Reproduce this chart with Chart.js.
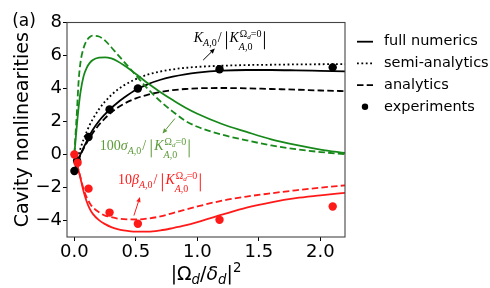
<!DOCTYPE html>
<html>
<head>
<meta charset="utf-8">
<title>Cavity nonlinearities</title>
<script src="https://cdn.jsdelivr.net/npm/chart.js@4.4.1/dist/chart.umd.min.js"></script>
<style>
  html, body { margin: 0; padding: 0; background: #fff; }
  #wrap { width: 490px; height: 288px; }
</style>
</head>
<body>
<div id="wrap"><canvas id="chart" width="490" height="288"></canvas></div>
<script>
// sample points |Omega_d/delta_d|^2 for the model curves
const xGrid = [0, 0.01, 0.02, 0.035, 0.05, 0.075, 0.1, 0.125, 0.15, 0.2, 0.25, 0.3, 0.35, 0.4,
  0.5, 0.6, 0.7, 0.8, 0.9, 1.0, 1.2, 1.4, 1.6, 1.8, 2.0, 2.2];

// K_A,0 / |K_A,0(Omega_d=0)|
const kerrFull = [-1.0, -0.78, -0.57, -0.27, 0.02, 0.42, 0.8, 1.17, 1.5, 2.03, 2.45, 2.82, 3.14, 3.42,
  3.92, 4.27, 4.53, 4.72, 4.86, 4.96, 5.08, 5.12, 5.12, 5.1, 5.07, 5.04];
const kerrSemi = [-1.0, -0.7, -0.4, 0.0, 0.38, 0.92, 1.38, 1.8, 2.15, 2.75, 3.22, 3.6, 3.92, 4.18,
  4.57, 4.85, 5.03, 5.16, 5.25, 5.31, 5.38, 5.42, 5.44, 5.46, 5.47, 5.48];
const kerrAna = [-1.0, -0.8, -0.6, -0.3, -0.02, 0.36, 0.7, 1.02, 1.3, 1.8, 2.2, 2.55, 2.83, 3.06,
  3.4, 3.63, 3.79, 3.9, 3.97, 4.01, 4.03, 4.01, 3.97, 3.93, 3.88, 3.84];

// 100 sigma_A,0 / |K_A,0(Omega_d=0)|
const sigmaFull = [0, 0.9, 1.75, 2.9, 3.8, 4.75, 5.25, 5.55, 5.73, 5.87, 5.89, 5.82, 5.65, 5.42,
  4.88, 4.3, 3.78, 3.3, 2.85, 2.47, 1.85, 1.37, 0.92, 0.58, 0.3, 0.09];
const sigmaAna = [0, 1.3, 2.5, 4.5, 5.6, 6.45, 6.9, 7.12, 7.2, 7.15, 6.9, 6.5, 6.07, 5.65,
  4.8, 3.95, 3.22, 2.6, 2.05, 1.68, 1.2, 0.86, 0.55, 0.32, 0.15, 0.02];

// 10 beta_A,0 / |K_A,0(Omega_d=0)|
const betaFull = [0, -0.28, -0.55, -1.0, -1.45, -2.25, -2.85, -3.3, -3.6, -3.98, -4.22, -4.4, -4.52, -4.6,
  -4.68, -4.68, -4.6, -4.46, -4.3, -4.1, -3.65, -3.22, -2.9, -2.65, -2.48, -2.32];
const betaAna = [0, -0.28, -0.55, -0.98, -1.4, -2.1, -2.6, -2.95, -3.2, -3.5, -3.7, -3.8, -3.88, -3.92,
  -3.94, -3.88, -3.75, -3.55, -3.35, -3.15, -2.8, -2.55, -2.35, -2.17, -2.01, -1.87];

// experiments
const expKerrX = [0, 0.022, 0.115, 0.286, 0.516, 1.18, 2.1];
const expKerrY = [-1.0, -0.38, 1.06, 2.73, 4.0, 5.17, 5.28];
const expBetaX = [0, 0.026, 0.115, 0.286, 0.516, 1.18, 2.1];
const expBetaY = [0.0, -0.5, -2.07, -3.52, -4.2, -3.96, -3.15];

const xTicks = [0, 0.5, 1.0, 1.5, 2.0];
const yTicks = [-4, -2, 0, 2, 4, 6, 8];

const legendItems = ['full numerics', 'semi-analytics', 'analytics', 'experiments'];

const BLACK = '#000000';
const GREEN = '#17891a';
const GREEN_TEXT = '#5c9a3a';
const RED = '#ff1a1a';
const DASHED = [6.5, 3.2];
const DOTTED = [1.8, 2.6];

const pts = (xs, ys) => xs.map((x, i) => ({ x: x, y: ys[i] }));

const curve = (data, color, dash, order) => ({
  data: pts(xGrid, data),
  showLine: true,
  borderColor: color,
  borderWidth: 1.8,
  borderDash: dash,
  pointRadius: 0,
  cubicInterpolationMode: 'monotone',
  order: order
});

const dots = (xs, ys, color, order) => ({
  data: pts(xs, ys),
  showLine: false,
  pointRadius: 4.2,
  pointBackgroundColor: color,
  pointBorderWidth: 0,
  order: order
});

function runs(ctx, x, y, parts, color) {
  ctx.fillStyle = color;
  ctx.textAlign = 'left';
  ctx.textBaseline = 'alphabetic';
  for (const p of parts) {
    ctx.font = (p.it ? 'italic ' : '') + p.size + 'px ' + (p.f || '"Liberation Serif"');
    ctx.fillText(p.t, x, y + (p.dy || 0));
    x += ctx.measureText(p.t).width + (p.gap || 0);
  }
  return x;
}

function bar(ctx, x, y0, y1, color) {
  ctx.strokeStyle = color;
  ctx.lineWidth = 1;
  ctx.setLineDash([]);
  ctx.beginPath();
  ctx.moveTo(x, y0);
  ctx.lineTo(x, y1);
  ctx.stroke();
}

function ratioLabel(ctx, x, y, prefix, color) {
  let cx = runs(ctx, x, y, prefix.concat([
    { t: 'A', size: 10, it: true, dy: 4 }, { t: ',0', size: 10, dy: 4 }
  ]), color);
  cx = runs(ctx, cx + 1, y, [{ t: '/', size: 14 }], color);
  cx += 5;
  bar(ctx, cx, y - 11, y + 7, color);
  cx += 3;
  cx = runs(ctx, cx, y, [{ t: 'K', size: 14, it: true }], color);
  const supEnd = runs(ctx, cx + 1, y - 5, [
    { t: 'Ω', size: 10 }, { t: 'd', size: 7, it: true, dy: 2 }, { t: '=0', size: 10 }
  ], color);
  const subEnd = runs(ctx, cx, y + 7.5, [{ t: 'A', size: 10, it: true }, { t: ',0', size: 10 }], color);
  bar(ctx, Math.max(supEnd, subEnd) + 3, y - 11, y + 7, color);
}

function arrow(ctx, x0, y0, x1, y1, color) {
  const a = Math.atan2(y1 - y0, x1 - x0), h = 5, w = 2.2;
  const bx = x1 - h * Math.cos(a), by = y1 - h * Math.sin(a);
  ctx.strokeStyle = color;
  ctx.fillStyle = color;
  ctx.lineWidth = 1;
  ctx.setLineDash([]);
  ctx.beginPath();
  ctx.moveTo(x0, y0);
  ctx.lineTo(bx, by);
  ctx.stroke();
  ctx.beginPath();
  ctx.moveTo(x1, y1);
  ctx.lineTo(bx + w * Math.sin(a), by - w * Math.cos(a));
  ctx.lineTo(bx - w * Math.sin(a), by + w * Math.cos(a));
  ctx.closePath();
  ctx.fill();
}

const overlay = {
  id: 'overlay',
  afterDraw(chart) {
    const ctx = chart.ctx;
    const a = chart.chartArea;
    const sx = chart.scales.x, sy = chart.scales.y;
    const X = v => sx.getPixelForValue(v), Y = v => sy.getPixelForValue(v);
    ctx.save();

    // frame
    ctx.strokeStyle = '#444';
    ctx.lineWidth = 1.1;
    ctx.setLineDash([]);
    ctx.strokeRect(a.left, a.top, a.right - a.left, a.bottom - a.top);

    // annotations
    ratioLabel(ctx, X(0.97), Y(6.8), [{ t: 'K', size: 14, it: true }], BLACK);
    arrow(ctx, X(1.047), Y(5.72), X(1.142), Y(6.42), BLACK);

    ratioLabel(ctx, X(0.207), Y(0.25), [{ t: '100', size: 14 }, { t: 'σ', size: 14, it: true }], GREEN_TEXT);
    arrow(ctx, X(0.817), Y(2.18), X(0.717), Y(1.27), GREEN_TEXT);

    ratioLabel(ctx, X(0.354), Y(-1.81), [{ t: '10', size: 14 }, { t: 'β', size: 14, it: true }], RED);
    arrow(ctx, X(0.484), Y(-3.7), X(0.533), Y(-2.58), RED);

    // panel tag
    ctx.fillStyle = '#000';
    ctx.font = '17px "DejaVu Sans"';
    ctx.textAlign = 'center';
    ctx.textBaseline = 'middle';
    ctx.fillText('(a)', 24, 22);

    // y title
    ctx.save();
    ctx.translate(23.5, (a.top + a.bottom) / 2);
    ctx.rotate(-Math.PI / 2);
    ctx.font = '19px "DejaVu Sans"';
    ctx.textAlign = 'center';
    ctx.textBaseline = 'middle';
    ctx.fillText('Cavity nonlinearities', 0, 0);
    ctx.restore();

    // x title  |Ω_d/δ_d|^2
    const D = '"DejaVu Sans"';
    const xParts = [
      { t: '|', size: 19, f: D }, { t: 'Ω', size: 19, f: D }, { t: 'd', size: 13.3, it: true, dy: 4, f: D },
      { t: '/', size: 19, f: D }, { t: 'δ', size: 19, it: true, f: D }, { t: 'd', size: 13.3, it: true, dy: 4, f: D },
      { t: '|', size: 19, f: D }, { t: '2', size: 13.3, dy: -8, f: D }
    ];
    let w = 0;
    for (const p of xParts) {
      ctx.font = (p.it ? 'italic ' : '') + p.size + 'px ' + p.f;
      w += ctx.measureText(p.t).width;
    }
    runs(ctx, (a.left + a.right) / 2 - w / 2, 280, xParts, '#000');

    // legend
    const lx0 = 357, lx1 = 373, ly0 = 41.7, step = 21.7;
    legendItems.forEach((label, i) => {
      const ly = ly0 + i * step;
      ctx.strokeStyle = '#000';
      ctx.fillStyle = '#000';
      ctx.lineWidth = 1.8;
      if (i < 3) {
        ctx.setLineDash([[], DOTTED, DASHED][i]);
        ctx.beginPath();
        ctx.moveTo(lx0, ly);
        ctx.lineTo(lx1, ly);
        ctx.stroke();
      } else {
        ctx.beginPath();
        ctx.arc((lx0 + lx1) / 2, ly, 3.2, 0, Math.PI * 2);
        ctx.fill();
      }
      ctx.setLineDash([]);
      ctx.font = '14.5px "DejaVu Sans"';
      ctx.textAlign = 'left';
      ctx.textBaseline = 'middle';
      ctx.fillText(label, 384, ly);
    });

    ctx.restore();
  }
};

new Chart(document.getElementById('chart').getContext('2d'), {
  type: 'scatter',
  data: {
    datasets: [
      dots(expBetaX, expBetaY, RED, 0),
      dots(expKerrX, expKerrY, BLACK, 1),
      curve(betaFull, RED, [], 2),
      curve(betaAna, RED, DASHED, 3),
      curve(sigmaFull, GREEN, [], 4),
      curve(sigmaAna, GREEN, DASHED, 5),
      curve(kerrFull, BLACK, [], 6),
      curve(kerrSemi, BLACK, DOTTED, 7),
      curve(kerrAna, BLACK, DASHED, 8)
    ]
  },
  options: {
    responsive: false,
    animation: false,
    devicePixelRatio: 1,
    layout: { padding: { left: 0, top: 22.5, right: 145, bottom: 0 } },
    plugins: { legend: { display: false }, tooltip: { enabled: false } },
    scales: {
      x: {
        type: 'linear',
        min: -0.06,
        max: 2.2,
        afterFit: s => { s.height = 51; },
        afterBuildTicks: s => { s.ticks = xTicks.map(v => ({ value: v })); },
        grid: { drawOnChartArea: false, drawTicks: true, tickLength: 4, color: '#000', lineWidth: 1 },
        border: { display: false },
        ticks: {
          padding: 1,
          maxRotation: 0,
          color: '#000',
          font: { family: 'DejaVu Sans', size: 18 },
          callback: v => v.toFixed(1)
        }
      },
      y: {
        type: 'linear',
        min: -5,
        max: 8,
        afterFit: s => { s.width = 67; },
        afterBuildTicks: s => { s.ticks = yTicks.map(v => ({ value: v })); },
        grid: { drawOnChartArea: false, drawTicks: true, tickLength: 4, color: '#000', lineWidth: 1 },
        border: { display: false },
        ticks: {
          padding: 1,
          color: '#000',
          font: { family: 'DejaVu Sans', size: 18 },
          callback: v => (v < 0 ? '\u2212' + (-v) : String(v))
        }
      }
    }
  },
  plugins: [overlay]
});
</script>
</body>
</html>
